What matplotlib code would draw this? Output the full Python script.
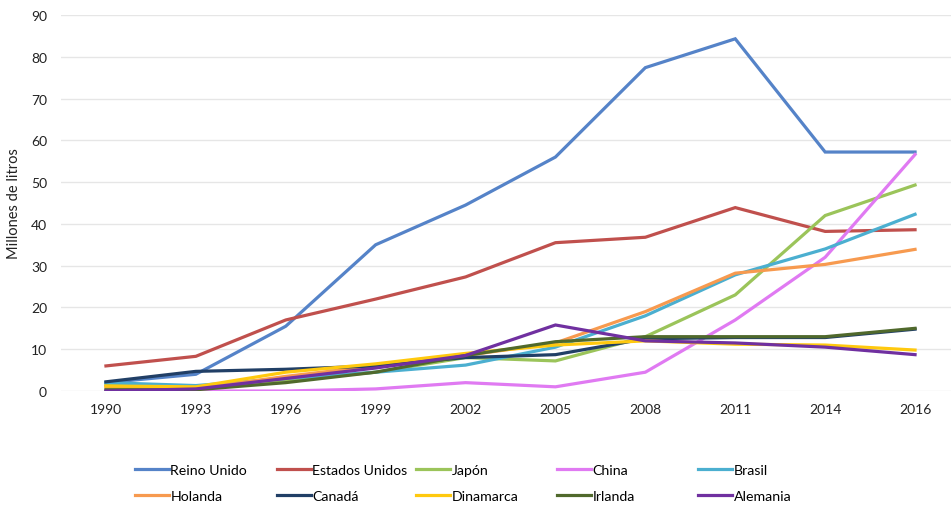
import numpy as np
import matplotlib.pyplot as plt

plt.rcParams["font.family"] = ["Lato", "DejaVu Sans"]

# ---- data ----
years = ["1990", "1993", "1996", "1999", "2002", "2005", "2008", "2011", "2014", "2016"]

reino_unido = [2.0, 4.0, 15.5, 35.0, 44.5, 56.0, 77.4, 84.3, 57.2, 57.2]
estados_unidos = [6.0, 8.3, 17.0, 22.0, 27.3, 35.5, 36.8, 43.9, 38.2, 38.6]
japon = [1.5, 1.0, 2.5, 4.5, 8.0, 7.2, 13.0, 23.0, 42.0, 49.3]
china = [0.0, 0.0, 0.0, 0.5, 2.0, 1.0, 4.5, 17.0, 32.0, 56.6]
brasil = [2.0, 1.3, 3.0, 4.5, 6.2, 10.5, 18.0, 27.8, 34.0, 42.3]
holanda = [1.0, 0.5, 3.5, 6.0, 8.5, 11.5, 19.0, 28.2, 30.3, 33.9]
canada = [2.2, 4.7, 5.2, 6.0, 8.0, 8.7, 12.5, 12.8, 12.8, 14.8]
dinamarca = [1.2, 1.0, 4.5, 6.5, 9.0, 11.0, 12.0, 11.2, 11.0, 9.8]
irlanda = [0.3, 0.3, 2.0, 4.5, 8.5, 11.8, 13.0, 13.0, 13.0, 15.0]
alemania = [0.0, 0.5, 3.0, 5.5, 8.5, 15.8, 12.0, 11.5, 10.5, 8.7]

series = [
    ("Reino Unido", reino_unido, "#5583c8"),
    ("Estados Unidos", estados_unidos, "#c0504d"),
    ("Japón", japon, "#9bc45a"),
    ("China", china, "#e07af2"),
    ("Brasil", brasil, "#4bafd0"),
    ("Holanda", holanda, "#f79a4f"),
    ("Canadá", canada, "#213f66"),
    ("Dinamarca", dinamarca, "#ffc90e"),
    ("Irlanda", irlanda, "#50692c"),
    ("Alemania", alemania, "#7030a0"),
]

# ---- figure ----
fig = plt.figure(figsize=(9.51, 5.10), dpi=100)
ax = fig.add_axes([61 / 951, 1 - 392 / 510, 899 / 951, 376 / 510])

x = np.arange(len(years))
lines = []
for name, vals, col in series:
    ln, = ax.plot(x, vals, color=col, lw=2.3, label=name, solid_joinstyle="miter")
    lines.append(ln)

ax.set_xlim(-0.5, len(years) - 0.5)
ax.set_ylim(0, 90)
ax.set_yticks(np.arange(0, 91, 10))
ax.set_xticks(x)
ax.set_xticklabels(years)
ax.tick_params(length=0, labelsize=10, colors="#222222", pad=9)
ax.tick_params(axis="y", pad=10)
ax.grid(axis="y", color="#e6e6e6", lw=1)
ax.set_axisbelow(True)
for s in ax.spines.values():
    s.set_visible(False)
ax.set_ylabel("Millones de litros", fontsize=10.5, color="#222222", labelpad=7)

# legend: fixed-width columns like the original
col_x = [128, 270, 409, 550, 691]
for c in range(5):
    leg = fig.legend(handles=[lines[c], lines[c + 5]], loc="upper left",
                     bbox_to_anchor=(col_x[c] / 951, 1 - 458 / 510),
                     frameon=False, fontsize=10.2, handlelength=2.4,
                     handletextpad=0.1, labelspacing=0.95, borderpad=0)

fig.savefig("out.png", dpi=100)
